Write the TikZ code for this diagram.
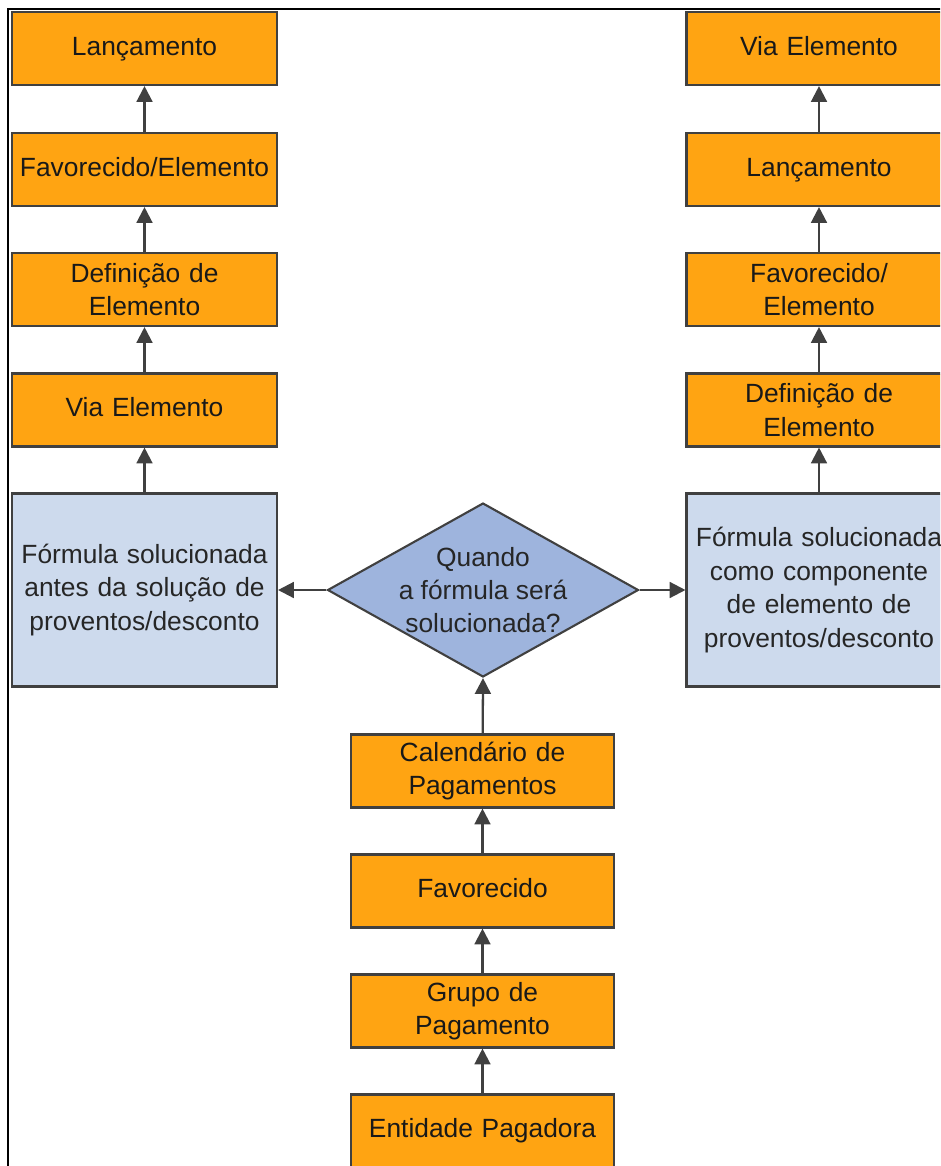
\documentclass[tikz,border=0pt]{standalone}
\usepackage{fontspec}
\setmainfont{Liberation Sans}
\usepackage{xcolor}
\usetikzlibrary{shapes,arrows.meta,positioning,shadows}

\definecolor{boxorange}{RGB}{255,164,18}
\definecolor{formblue}{RGB}{205,218,237}
\definecolor{askblue}{RGB}{158,180,221}
\definecolor{edgegray}{RGB}{64,64,64}

\begin{document}
\begin{tikzpicture}[
    x=0.02cm, y=-0.02cm,
    font=\fontsize{15}{19}\selectfont,
    item/.style={rectangle, draw=edgegray, fill=boxorange, line width=1.2pt, minimum width=5.3cm, minimum height=1.46cm, text width=5.2cm, inner xsep=1pt, inner ysep=2pt, align=center, text=black!90, drop shadow={shadow xshift=0.6pt, shadow yshift=-0.6pt, opacity=0.45}},
    formula/.style={rectangle, draw=edgegray, fill=formblue, line width=1.2pt, minimum width=5.3cm, minimum height=3.86cm, text width=5.2cm, inner xsep=1pt, align=center, text=black!85, drop shadow={shadow xshift=0.6pt, shadow yshift=-0.6pt, opacity=0.45}},
    decision/.style={diamond, draw=edgegray, fill=askblue, line width=1.2pt, minimum width=6.22cm, minimum height=3.48cm, inner sep=0pt},
    arrow/.style={draw=edgegray, line width=1.3pt, -{Triangle[length=9pt, width=9pt]}}
]

\clip (0,0) rectangle (940,1166);

% Frame
\draw[line width=1.6pt] (8,1175) -- (8,9) -- (950,9);

% Left column
\node[item] (lancA) at (144.5,48.5) {Lançamento\strut};
\node[item] (favA) at (144.5,169.5) {Favorecido/Elemento\strut};
\node[item] (defA) at (144.5,289.5) {Definição de\\Elemento};
\node[item] (viaA) at (144.5,410) {Via Elemento\strut};
\node[formula] (formA) at (144.5,590) {Fórmula solucionada\\antes da solução de\\proventos/desconto};

% Right column
\node[item] (viaB) at (819,48.5) {Via Elemento\strut};
\node[item] (lancB) at (819,169.5) {Lançamento\strut};
\node[item] (favB) at (819,289.5) {Favorecido/\\Elemento};
\node[item] (defB) at (819,410) {Definição de\\Elemento};
\node[formula] (formB) at (819,590) {Fórmula solucionada\\como componente\\de elemento de\\proventos/desconto};

% Decision
\node[decision] (quando) at (483,590) {};
\node[align=center, text=black!85] (quandotxt) at (quando) {Quando\\a fórmula será\\solucionada?};

% Center column
\node[item, minimum width=5.22cm] (calendario) at (482.5,771) {Calendário de\\Pagamentos};
\node[item, minimum width=5.22cm] (favorecido) at (482.5,891) {Favorecido\strut};
\node[item, minimum width=5.22cm] (grupo) at (482.5,1011) {Grupo de\\Pagamento};
\node[item, minimum width=5.22cm] (entidade) at (482.5,1131) {Entidade Pagadora\strut};

% Arrows
\draw[arrow] (formA) -- (viaA);
\draw[arrow] (viaA) -- (defA);
\draw[arrow] (defA) -- (favA);
\draw[arrow] (favA) -- (lancA);

\draw[arrow] (formB) -- (defB);
\draw[arrow] (defB) -- (favB);
\draw[arrow] (favB) -- (lancB);
\draw[arrow] (lancB) -- (viaB);

\draw[arrow] (entidade) -- (grupo);
\draw[arrow] (grupo) -- (favorecido);
\draw[arrow] (favorecido) -- (calendario);
\draw[arrow] (calendario) -- (quando.south);

\draw[arrow] (quando.west) -- (formA.east);
\draw[arrow] (quando.east) -- (formB.west);

\end{tikzpicture}
\end{document}
